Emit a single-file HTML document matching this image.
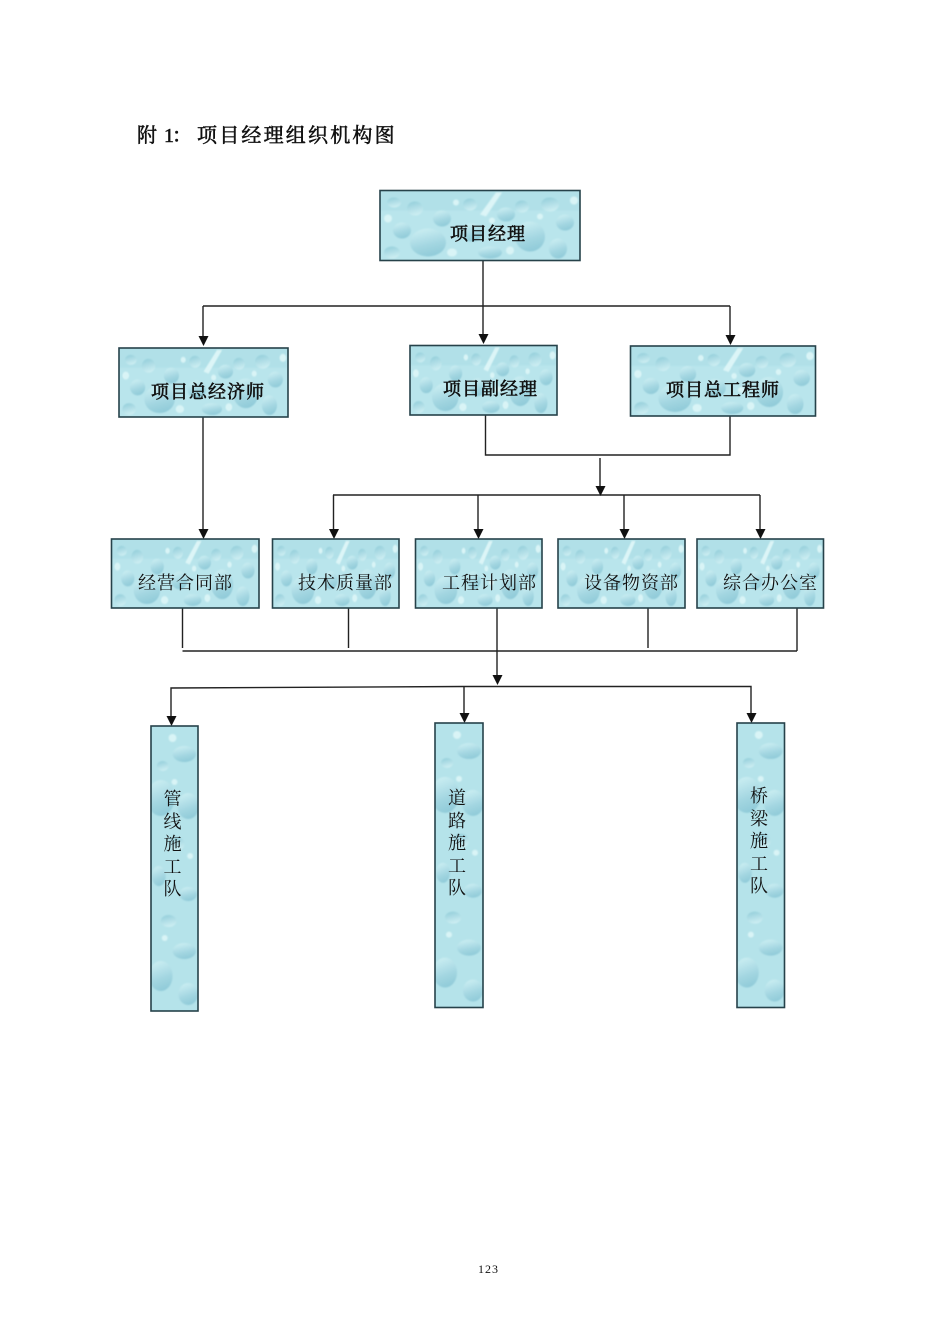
<!DOCTYPE html>
<html lang="zh">
<head>
<meta charset="utf-8">
<title>项目经理组织机构图</title>
<style>
html,body{margin:0;padding:0;background:#fff;width:950px;height:1344px;overflow:hidden}
svg{display:block}
text{font-family:"Liberation Serif","Noto Serif CJK SC",serif;fill:#111}
.title{font-size:20px;letter-spacing:2.2px;stroke:#111;stroke-width:.55px}
.b{font-size:18px;letter-spacing:1px;stroke:#111;stroke-width:.6px}
.n{font-size:18px;letter-spacing:1px}
.v{font-size:18px;text-anchor:middle}
.box{stroke:#26424a;stroke-width:1.6}
.l{stroke:#222;stroke-width:1.4;fill:none}
.h{fill:#111;stroke:none}
</style>
</head>
<body>
<svg xmlns="http://www.w3.org/2000/svg" width="950" height="1344" viewBox="0 0 950 1344">
<defs>
<linearGradient id="d" x1="0.3" y1="0" x2="0.6" y2="1"><stop offset="0" stop-color="#cbeef2"/><stop offset=".6" stop-color="#a3d6e1"/><stop offset="1" stop-color="#8fcad8"/></linearGradient>
<linearGradient id="d2" x1="0.3" y1="0" x2="0.6" y2="1"><stop offset="0" stop-color="#95cfdb"/><stop offset="1" stop-color="#cfeff3"/></linearGradient>
<filter id="s" x="-5%" y="-5%" width="110%" height="110%"><feGaussianBlur stdDeviation="0.7"/></filter>
<pattern id="w" patternUnits="objectBoundingBox" width="1" height="1" viewBox="0 0 200 70" preserveAspectRatio="none">
<rect width="200" height="70" fill="#b9e5ec"/>
<g filter="url(#s)">
<rect x="0" y="0" width="200" height="20" fill="#a9dce6" opacity=".55"/>
<ellipse cx="48" cy="52" rx="18" ry="14" fill="url(#d)"/>
<ellipse cx="22" cy="40" rx="9" ry="8" fill="url(#d)"/>
<ellipse cx="35" cy="18" rx="8" ry="7" fill="url(#d2)"/>
<ellipse cx="14" cy="12" rx="7" ry="5" fill="url(#d2)"/>
<ellipse cx="62" cy="28" rx="9" ry="8" fill="url(#d)"/>
<ellipse cx="90" cy="14" rx="7" ry="6" fill="url(#d2)"/>
<ellipse cx="92" cy="42" rx="11" ry="9" fill="url(#d)"/>
<path d="M100 24 L116 2 L122 2 L106 26Z" fill="#dcf5f7"/>
<ellipse cx="126" cy="24" rx="9" ry="7" fill="url(#d)"/>
<ellipse cx="150" cy="46" rx="15" ry="15" fill="url(#d)"/>
<ellipse cx="142" cy="16" rx="7" ry="6" fill="url(#d2)"/>
<ellipse cx="170" cy="14" rx="9" ry="7" fill="url(#d2)"/>
<ellipse cx="185" cy="32" rx="9" ry="8" fill="url(#d)"/>
<ellipse cx="178" cy="58" rx="9" ry="10" fill="url(#d)"/>
<ellipse cx="12" cy="62" rx="8" ry="6" fill="url(#d2)"/>
<ellipse cx="110" cy="62" rx="12" ry="6" fill="url(#d)"/>
<ellipse cx="72" cy="62" rx="5" ry="4" fill="#d9f4f6"/>
<ellipse cx="120" cy="44" rx="4" ry="3" fill="#d9f4f6"/>
<ellipse cx="8" cy="28" rx="4" ry="4" fill="#d9f4f6"/>
<ellipse cx="76" cy="12" rx="3" ry="3" fill="#d9f4f6"/>
<ellipse cx="112" cy="30" rx="3" ry="3" fill="#d9f4f6"/>
<ellipse cx="160" cy="26" rx="3" ry="3" fill="#d9f4f6"/>
<ellipse cx="194" cy="10" rx="4" ry="4" fill="#d9f4f6"/>
<ellipse cx="130" cy="60" rx="4" ry="4" fill="#d9f4f6"/>
</g>
</pattern>
<pattern id="t" patternUnits="objectBoundingBox" width="1" height="1" viewBox="0 0 48 285" preserveAspectRatio="none">
<rect width="48" height="285" fill="#b5e3ea"/>
<g filter="url(#s)">
<ellipse cx="34" cy="28" rx="12" ry="8" fill="url(#d)"/>
<ellipse cx="12" cy="40" rx="6" ry="5" fill="url(#d2)"/>
<ellipse cx="10" cy="72" rx="14" ry="18" fill="url(#d)"/>
<ellipse cx="38" cy="80" rx="11" ry="13" fill="url(#d)"/>
<ellipse cx="26" cy="118" rx="8" ry="7" fill="url(#d2)"/>
<ellipse cx="8" cy="150" rx="7" ry="10" fill="url(#d)"/>
<ellipse cx="38" cy="168" rx="9" ry="7" fill="url(#d)"/>
<ellipse cx="18" cy="195" rx="8" ry="6" fill="url(#d2)"/>
<ellipse cx="34" cy="225" rx="12" ry="8" fill="url(#d)"/>
<ellipse cx="10" cy="250" rx="12" ry="15" fill="url(#d)"/>
<ellipse cx="38" cy="268" rx="10" ry="11" fill="url(#d)"/>
<ellipse cx="22" cy="12" rx="4" ry="4" fill="#d9f4f6"/>
<ellipse cx="24" cy="56" rx="3" ry="3" fill="#d9f4f6"/>
<ellipse cx="40" cy="130" rx="3" ry="3" fill="#d9f4f6"/>
<ellipse cx="14" cy="212" rx="3" ry="3" fill="#d9f4f6"/>
</g>
</pattern>
</defs>

<text class="title" x="137" y="142">附</text>
<text class="title" x="164" y="142">1</text>
<text class="title" x="172" y="142">：</text>
<text class="title" x="197" y="142">项目经理组织机构图</text>

<!-- connectors -->
<path class="l" d="M483 261V340M203 306H730"/>
<path class="l" d="M203 306V340"/>
<path class="l" d="M730 306V340"/>
<path class="l" d="M203 417V533"/>
<path class="l" d="M485.500 415V455H730V416"/>
<path class="l" d="M600 458V490"/>
<path class="l" d="M333 495H760"/>
<path class="l" d="M333.500 495V533M478 495V533M624 495V533M760 495V533"/>
<path class="l" d="M182.500 608V648M348.500 608V648M648 608V648M797 608V651M182.500 651H797"/>
<path class="l" d="M497 608V680"/>
<path class="l" d="M171 720V688L464 686.500H751V717"/>
<path class="l" d="M464 686V717"/>

<!-- arrowheads -->
<path class="h" d="M198.500 336H208.500L203.500 346Z"/>
<path class="h" d="M478.500 334H488.500L483.500 344Z"/>
<path class="h" d="M725.500 335H735.500L730.500 345Z"/>
<path class="h" d="M198.500 529H208.500L203.500 539Z"/>
<path class="h" d="M595.500 486H605.500L600.500 496Z"/>
<path class="h" d="M329 529H339L334 539Z"/>
<path class="h" d="M473.500 529H483.500L478.500 539Z"/>
<path class="h" d="M619.500 529H629.500L624.500 539Z"/>
<path class="h" d="M755.500 529H765.500L760.500 539Z"/>
<path class="h" d="M492.500 675H502.500L497.500 685Z"/>
<path class="h" d="M166.500 716H176.500L171.500 726Z"/>
<path class="h" d="M459.500 713H469.500L464.500 723Z"/>
<path class="h" d="M746.500 713H756.500L751.500 723Z"/>

<!-- boxes -->
<rect class="box" x="380" y="190.500" width="200" height="70" fill="url(#w)"/>
<rect class="box" x="119" y="348" width="169" height="69" fill="url(#w)"/>
<rect class="box" x="410" y="345.500" width="147" height="69.500" fill="url(#w)"/>
<rect class="box" x="630.500" y="346" width="185" height="70" fill="url(#w)"/>
<rect class="box" x="111.500" y="539" width="147.500" height="69" fill="url(#w)"/>
<rect class="box" x="272.500" y="539" width="126.500" height="69" fill="url(#w)"/>
<rect class="box" x="415.500" y="539" width="126.500" height="69" fill="url(#w)"/>
<rect class="box" x="558" y="539" width="127" height="69" fill="url(#w)"/>
<rect class="box" x="697" y="539" width="126.500" height="69" fill="url(#w)"/>
<rect class="box" x="151" y="726" width="47" height="285" fill="url(#t)"/>
<rect class="box" x="435" y="723" width="48" height="284.500" fill="url(#t)"/>
<rect class="box" x="737" y="723" width="47.500" height="284.500" fill="url(#t)"/>

<!-- labels -->
<text class="b" x="450" y="240">项目经理</text>
<text class="b" x="151" y="398">项目总经济师</text>
<text class="b" x="443" y="395">项目副经理</text>
<text class="b" x="666" y="396">项目总工程师</text>
<text class="n" x="138" y="589">经营合同部</text>
<text class="n" x="298" y="589">技术质量部</text>
<text class="n" x="442" y="589">工程计划部</text>
<text class="n" x="584" y="589">设备物资部</text>
<text class="n" x="723" y="589">综合办公室</text>

<text class="v" x="172.500" y="805">管</text><text class="v" x="172.500" y="828">线</text><text class="v" x="172.500" y="850">施</text><text class="v" x="172.500" y="873">工</text><text class="v" x="172.500" y="895">队</text>
<text class="v" x="457" y="804">道</text><text class="v" x="457" y="827">路</text><text class="v" x="457" y="849">施</text><text class="v" x="457" y="872">工</text><text class="v" x="457" y="894">队</text>
<text class="v" x="759" y="802">桥</text><text class="v" x="759" y="825">梁</text><text class="v" x="759" y="847">施</text><text class="v" x="759" y="870">工</text><text class="v" x="759" y="892">队</text>

<text x="478" y="1273" font-size="12" style="letter-spacing:1px">123</text>
</svg>
</body>
</html>
